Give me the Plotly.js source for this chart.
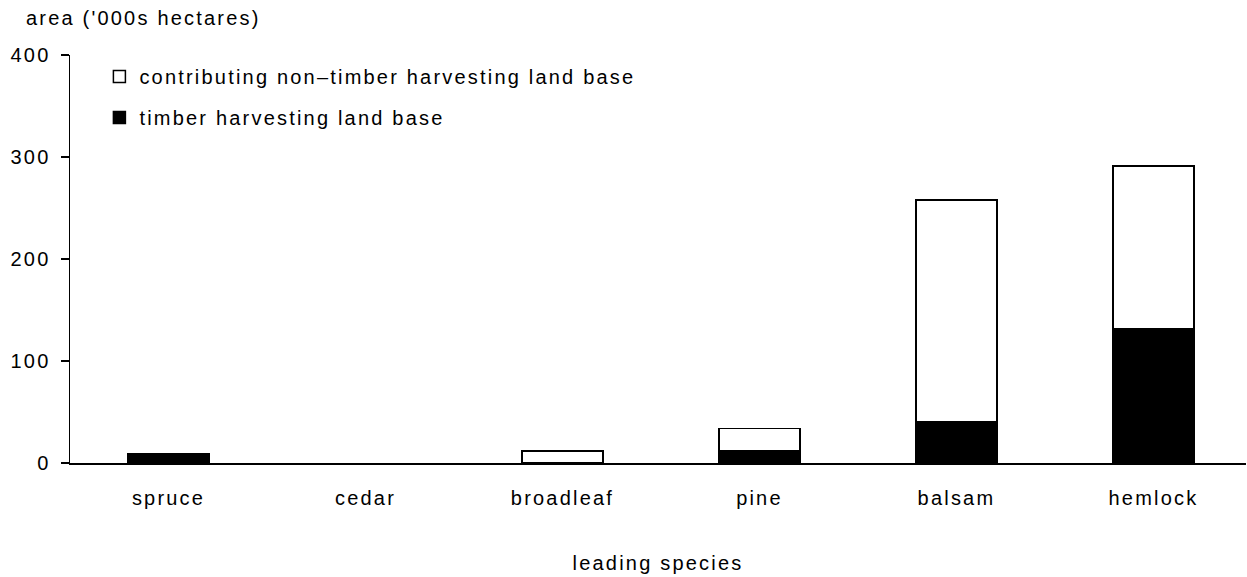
<!DOCTYPE html>
<html>
<head>
<meta charset="utf-8">
<script src="https://cdn.plot.ly/plotly-3.0.1.min.js"></script>
<style>
html,body{margin:0;padding:0;background:#fff;}
#chart{width:1247px;height:577px;}
svg text{letter-spacing:2.2px;}
</style>
</head>
<body>
<div id="chart"></div>
<script>
var species = ["spruce", "cedar", "broadleaf", "pine", "balsam", "hemlock"];
var timberHarvesting = [9, null, null, 12, 40, 132];
var contributingNonTimber = [null, null, 12, 22, 218, 159];
var yTicks = [0, 100, 200, 300, 400];
var seriesNames = ["timber harvesting land base", "contributing non\u2013timber harvesting land base"];

var FONT = "Liberation Sans, Arial, sans-serif";
var FS = 20;

var traces = [
  {
    type: "bar", name: seriesNames[0], x: species, y: timberHarvesting,
    marker: {color: "#000000", line: {color: "#000000", width: 1.5}},
    width: 0.41, legendgroup: "a", legendrank: 2
  },
  {
    type: "bar", name: seriesNames[1], x: species, y: contributingNonTimber,
    marker: {color: "#ffffff", line: {color: "#000000", width: 1.5}},
    width: 0.41, legendgroup: "b", legendrank: 1
  }
];

var layout = {
  width: 1247, height: 577,
  margin: {l: 70, r: 1, t: 55, b: 114, pad: 0},
  paper_bgcolor: "#ffffff", plot_bgcolor: "#ffffff",
  font: {family: FONT, size: FS, color: "#000000"},
  barmode: "stack",
  showlegend: true,
  legend: {
    x: 0.025, xanchor: "left", y: 0.995, yanchor: "top",
    traceorder: "grouped", tracegroupgap: 12,
    bgcolor: "rgba(0,0,0,0)", font: {family: FONT, size: FS, color: "#000"}
  },
  xaxis: {
    type: "category", range: [-0.5, 5.47],
    showline: true, linecolor: "#000", linewidth: 1.5,
    ticks: "", showgrid: false, zeroline: false,
    ticklabelstandoff: 16,
    tickfont: {family: FONT, size: FS, color: "#000"},
    title: {text: "leading species", standoff: 48, font: {family: FONT, size: FS, color: "#000"}}
  },
  yaxis: {
    range: [0, 400], tickvals: yTicks, ticktext: yTicks.map(String),
    showline: true, linecolor: "#000", linewidth: 1.5,
    ticks: "outside", ticklen: 8, tickwidth: 1.5, tickcolor: "#000",
    showgrid: false, zeroline: false,
    ticklabelstandoff: 6,
    tickfont: {family: FONT, size: FS, color: "#000"}
  },
  annotations: [{
    text: "area ('000s hectares)", xref: "paper", yref: "paper",
    x: -0.039, xanchor: "left", y: 1.0906, yanchor: "middle",
    showarrow: false, font: {family: FONT, size: FS, color: "#000"}
  }]
};

Plotly.newPlot("chart", traces, layout, {displayModeBar: false, staticPlot: true});
</script>
</body>
</html>
